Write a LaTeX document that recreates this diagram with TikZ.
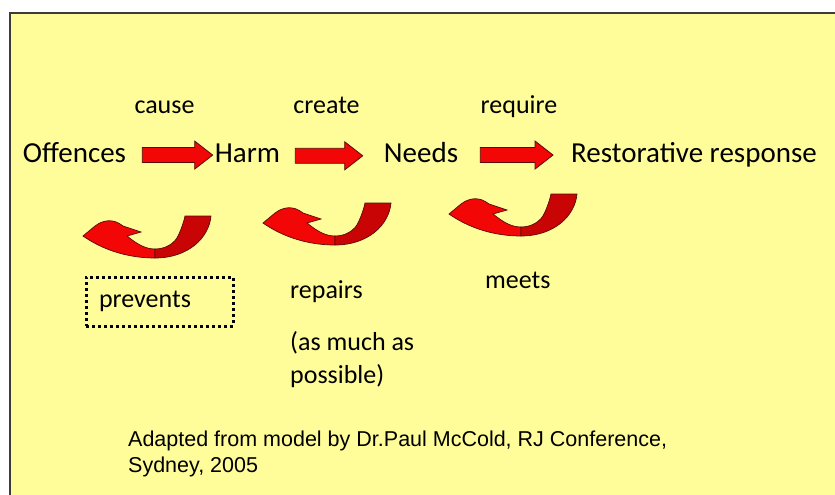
\documentclass[tikz,border=0pt]{standalone}
\usepackage{fontspec}
\setmainfont{Carlito}
\newfontfamily\notefont{Liberation Sans}
\usetikzlibrary{calc}
\definecolor{rj_yellow}{RGB}{255,253,153}
\definecolor{rj_red}{RGB}{242,6,6}
\definecolor{rj_darkred}{RGB}{200,4,4}
\definecolor{rj_edge}{RGB}{90,10,10}
\definecolor{rj_frame}{RGB}{60,60,60}
\tikzstyle{big}=[inner sep=0pt,font=\fontsize{29}{33}\selectfont]
\tikzstyle{small}=[inner sep=0pt,font=\fontsize{26}{33}\selectfont]
\tikzstyle{note}=[inner sep=0pt,align=left,
  font=\notefont\fontsize{21.5}{26}\selectfont]
\tikzstyle{dotbox}=[draw=black,line width=3pt,dash pattern=on 3pt off 3pt,
  minimum width=147pt,minimum height=49pt,text width=121pt,align=left,
  inner xsep=13pt,inner ysep=0pt,font=\fontsize{26}{33}\selectfont]
\tikzstyle{blockarrow}=[fill=rj_red,draw=rj_edge,line width=0.8pt,
  to path={let \p1=(\tikztostart), \p2=(\tikztotarget) in
    (\x1,\y1+7.5) -- (\x2-18,\y1+7.5) -- (\x2-18,\y1+14) -- (\x2,\y1)
    -- (\x2-18,\y1-14) -- (\x2-18,\y1-7.5) -- (\x1,\y1-7.5) -- cycle}]
\tikzset{
  uturn/.pic={
    % front of the ribbon, with the head
    \path[fill=rj_red,draw=rj_edge,line width=0.7pt]
      (0,0) -- (12,-10) .. controls (20,-16) and (30,-18) .. (40,-10)
      -- (58,-4) -- (44,0) .. controls (54,8) and (62,13) .. (72,13)
      -- (72,22) .. controls (45,22) and (20,14) .. (0,0) -- cycle;
    % back of the ribbon, up to the tail
    \path[fill=rj_darkred,draw=rj_edge,line width=0.7pt]
      (72,13) .. controls (82,13) and (92,8) .. (96,-2)
      .. controls (99,-9) and (101,-15) .. (102,-20) -- (128,-20)
      .. controls (126,2) and (105,22) .. (72,22) -- cycle;
  }
}

\begin{document}
\begin{tikzpicture}[x=1pt,y=-1pt]
        \useasboundingbox (0,0) rectangle (835,495);
        \fill[rj_yellow] (10,13) rectangle (835,495);
        \draw[rj_frame,line width=2pt] (10,495) -- (10,13) -- (835,13);
        \node [style=big, anchor=base] (0) at (74.5,162) {Offences};
        \node [style=big, anchor=base] (1) at (247.5,162) {Harm};
        \node [style=big, anchor=base] (2) at (421,162) {Needs};
        \node [style=big, anchor=base] (3) at (694,162) {Restorative response};
        \node [style=small, anchor=base] (4) at (164.5,113) {cause};
        \node [style=small, anchor=base] (5) at (326.5,113) {create};
        \node [style=small, anchor=base] (6) at (519,113) {require};
        \node [style=dotbox] (7) at (159.5,301.5) {prevents};
        \node [style=small, anchor=base west] (8) at (290,298) {repairs};
        \node [style=small, anchor=north west, align=left] (9) at (290,331) {(as much as\\possible)};
        \node [style=small, anchor=base west] (10) at (485,288) {meets};
        \node [style=note, anchor=north west] (11) at (128,431) {Adapted from model by Dr.Paul McCold, RJ Conference,\\Sydney, 2005};
        \path[style=blockarrow] ([xshift=16pt,yshift=-3pt]0.east) to ([xshift=-2pt,yshift=-3pt]1.west);
        \path[style=blockarrow] ([xshift=15pt,yshift=-3pt]1.east) to ([xshift=-21pt,yshift=-3pt]2.west);
        \path[style=blockarrow] ([xshift=22pt,yshift=-3pt]2.east) to ([xshift=-18pt,yshift=-3pt]3.west);
        \pic at (83,236) {uturn};
        \pic at (263,223) {uturn};
        \pic at (449,214) {uturn};
    \end{tikzpicture}
\end{document}
